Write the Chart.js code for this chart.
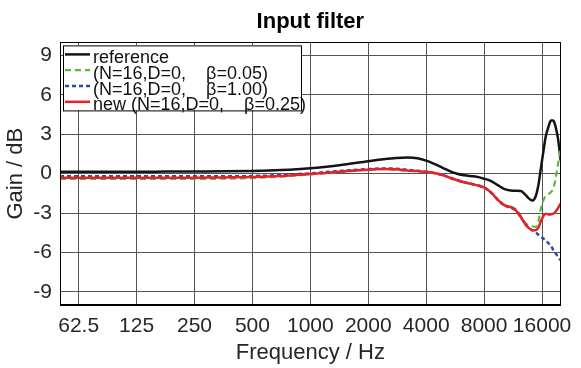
<!DOCTYPE html>
<html>
<head>
<meta charset="utf-8">
<script src="https://cdn.jsdelivr.net/npm/chart.js@4.4.1/dist/chart.umd.min.js"></script>
<style>
  html, body { margin: 0; padding: 0; background: #fff; }
</style>
</head>
<body>
<canvas id="chart" width="581" height="368"></canvas>
<script>
const FONT = "'Liberation Sans', Arial, sans-serif";

// frequency points (Hz) shared by all curves
const freqs = [50, 62.5, 88, 125, 177, 250, 354, 500, 707, 1000, 1414, 2000, 2400, 2800, 3200, 3600,
  4000, 4400, 4870, 5300, 5800, 6300, 7200, 8000, 8650, 9370, 10150, 11000, 11700, 12400, 13100,
  13700, 14200, 14800, 15300, 15700, 16300, 16700, 17300, 17800, 18300, 18800, 19400, 20000];

// gain in dB
const reference = [0.15, 0.15, 0.15, 0.15, 0.16, 0.17, 0.18, 0.21, 0.28, 0.42, 0.65, 0.95, 1.1, 1.2, 1.24, 1.18,
  1.0, 0.75, 0.45, 0.2, 0.0, -0.12, -0.22, -0.38, -0.55, -0.85, -1.15, -1.28, -1.3, -1.32, -1.6,
  -1.9, -2.05, -1.75, -0.9, 0.2, 1.8, 2.8, 3.6, 4.05, 4.05, 3.6, 2.6, 1.0];
const beta005 = [-0.4, -0.4, -0.4, -0.4, -0.4, -0.4, -0.38, -0.33, -0.22, -0.05, 0.12, 0.3, 0.35, 0.3, 0.22, 0.18,
  0.12, 0.03, -0.12, -0.32, -0.52, -0.66, -0.85, -1.05, -1.4, -1.95, -2.35, -2.5, -2.7, -3.2, -3.75,
  -3.95, -4.0, -4.05, -3.7, -2.8, -2.0, -1.7, -1.55, -1.4, -1.15, -0.4, 0.8, 2.0];
const beta100 = [-0.2, -0.2, -0.2, -0.2, -0.2, -0.2, -0.2, -0.18, -0.1, 0.03, 0.2, 0.35, 0.4, 0.38, 0.3, 0.22,
  0.15, 0.05, -0.1, -0.3, -0.5, -0.65, -0.85, -1.05, -1.4, -1.95, -2.4, -2.6, -2.8, -3.3, -3.85,
  -4.15, -4.3, -4.45, -4.65, -4.8, -4.95, -5.1, -5.3, -5.5, -5.8, -6.05, -6.35, -6.6];
const beta025 = [-0.3, -0.3, -0.3, -0.3, -0.3, -0.3, -0.28, -0.26, -0.18, -0.03, 0.15, 0.3, 0.35, 0.33, 0.25, 0.2,
  0.14, 0.05, -0.1, -0.3, -0.5, -0.65, -0.85, -1.05, -1.4, -1.95, -2.4, -2.55, -2.8, -3.3, -3.85,
  -4.15, -4.3, -4.3, -4.1, -3.7, -3.2, -3.05, -3.1, -3.1, -3.05, -2.9, -2.6, -2.25];

const xTicks = [62.5, 125, 250, 500, 1000, 2000, 4000, 8000, 16000];
const yTicks = [-9, -6, -3, 0, 3, 6, 9];

const labels = ['reference', '(N=16,D=0,    \u03b2=0.05)', '(N=16,D=0,    \u03b2=1.00)', 'new (N=16,D=0,    \u03b2=0.25)'];

function points(values) {
  return freqs.map((f, i) => ({ x: f, y: values[i] }));
}

// legend drawn inside the plot box, plus the box outline
const innerLegend = {
  id: 'innerLegend',
  afterDatasetsDraw(chart) {
    const ctx = chart.ctx;
    const a = chart.chartArea;
    ctx.save();
    ctx.strokeStyle = '#000';
    ctx.lineWidth = 1;
    ctx.strokeRect(Math.round(a.left) + 0.5, Math.round(a.top) + 0.5, Math.round(a.right - a.left) - 1, Math.round(a.bottom - a.top) - 1);

    const x0 = a.left + 3, y0 = a.top + 3;
    ctx.fillStyle = '#fff';
    ctx.fillRect(x0, y0, 238, 65);
    ctx.strokeRect(x0 + 0.5, y0 + 0.5, 238, 65);

    ctx.font = '18px ' + FONT;
    ctx.textBaseline = 'alphabetic';
    chart.data.datasets.forEach((ds, i) => {
      const y = y0 + 9 + i * 15.8;
      ctx.beginPath();
      ctx.setLineDash(ds.borderDash || []);
      ctx.strokeStyle = ds.borderColor;
      ctx.lineWidth = ds.borderWidth;
      ctx.moveTo(x0 + 2, y);
      ctx.lineTo(x0 + 27, y);
      ctx.stroke();
      ctx.setLineDash([]);
      ctx.fillStyle = '#111';
      ctx.fillText(ds.label, x0 + 30, y + 8.5);
    });
    ctx.restore();
  }
};

new Chart(document.getElementById('chart'), {
  type: 'line',
  data: {
    datasets: [
      { label: labels[0], data: points(reference), borderColor: '#141414', borderWidth: 2.5, order: 3 },
      { label: labels[1], data: points(beta005), borderColor: '#5cb83c', borderWidth: 2.2, borderDash: [6, 4], order: 2 },
      { label: labels[2], data: points(beta100), borderColor: '#2b4aa8', borderWidth: 2.5, borderDash: [4, 3], order: 1 },
      { label: labels[3], data: points(beta025), borderColor: '#e8202a', borderWidth: 2.5, order: 0 }
    ]
  },
  options: {
    responsive: false,
    animation: false,
    elements: {
      point: { radius: 0 },
      line: { cubicInterpolationMode: 'monotone', fill: false }
    },
    layout: { padding: { left: 0, right: 12, top: 0, bottom: 0 } },
    plugins: {
      legend: { display: false },
      tooltip: { enabled: false },
      title: {
        display: true,
        text: 'Input filter',
        fullSize: false,
        color: '#000',
        font: { family: FONT, size: 22, weight: 'bold' },
        padding: { top: 9, bottom: 7 }
      }
    },
    scales: {
      x: {
        type: 'logarithmic',
        min: 50,
        max: 20000,
        afterBuildTicks: s => { s.ticks = xTicks.map(v => ({ value: v })); },
        afterFit: s => { s.height = 63; },
        ticks: {
          callback: v => String(v),
          autoSkip: false,
          maxRotation: 0,
          padding: 9,
          color: '#262626',
          font: { family: FONT, size: 21 }
        },
        grid: { color: '#555', lineWidth: 1, drawTicks: false },
        border: { display: true, color: '#000' },
        title: {
          display: true,
          text: 'Frequency / Hz',
          color: '#262626',
          font: { family: FONT, size: 22 },
          padding: { top: 0, bottom: 2 }
        }
      },
      y: {
        min: -10,
        max: 10,
        afterBuildTicks: s => { s.ticks = yTicks.map(v => ({ value: v })); },
        afterFit: s => { s.width = 60; },
        ticks: {
          padding: 8,
          color: '#262626',
          font: { family: FONT, size: 21 }
        },
        grid: { color: '#555', lineWidth: 1, drawTicks: false },
        border: { display: true, color: '#000' },
        title: {
          display: true,
          text: 'Gain / dB',
          color: '#262626',
          font: { family: FONT, size: 22 },
          padding: { top: 3, bottom: 0 }
        }
      }
    }
  },
  plugins: [innerLegend]
});
</script>
</body>
</html>
